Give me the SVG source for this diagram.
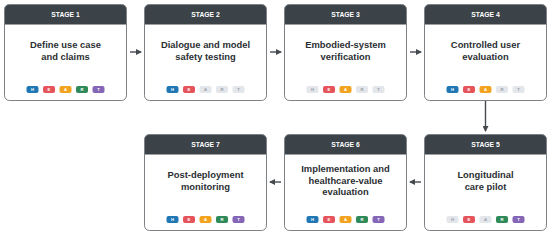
<svg xmlns="http://www.w3.org/2000/svg" width="550" height="233" viewBox="0 0 550 233">
<style>
.bg{fill:#ffffff;stroke:none}
.ol{fill:none;stroke:#7d8185;stroke-width:1}
.hdr{fill:#3b4248}
.ht{font-family:"Liberation Sans",Arial,sans-serif;font-weight:bold;font-size:6.8px;fill:#ffffff;text-anchor:middle}
.tt{font-family:"Liberation Sans",Arial,sans-serif;font-weight:bold;font-size:9.4px;fill:#2b2f33;text-anchor:middle}
.bt{font-family:"Liberation Sans",Arial,sans-serif;font-weight:bold;font-size:4.2px;fill:#ffffff;text-anchor:middle}
.bt.off{fill:#9aa0a6}
.H{fill:#2077b4}.E{fill:#e5535b}.A{fill:#f2a31f}.R{fill:#2f8a5a}.T{fill:#8465b6}.off{fill:#e3e6ea}
text.off{fill:#9aa0a6}
.arr{stroke:#454a4f;stroke-width:1.4;fill:none;marker-end:url(#ah)}
</style>
<defs>
<marker id="ah" markerUnits="userSpaceOnUse" markerWidth="6" markerHeight="6" refX="5" refY="3" orient="auto">
<path d="M0,0 L6,3 L0,6 Z" fill="#454a4f"/>
</marker>
<g id="frame">
<rect class="bg" x="0" y="0" width="122" height="96" rx="5"/>
<path class="hdr" d="M0,20 V5 Q0,0 5,0 H117 Q122,0 122,5 V20 Z"/>
<rect class="ol" x="0" y="0" width="122" height="96" rx="5"/>
</g>
</defs>

<g id="connectors">
<line class="arr" x1="130" y1="52" x2="141" y2="52"/>
<line class="arr" x1="270" y1="52" x2="281" y2="52"/>
<line class="arr" x1="410" y1="52" x2="421" y2="52"/>
<line class="arr" x1="485.5" y1="101" x2="485.5" y2="131"/>
<line class="arr" x1="421" y1="182" x2="410" y2="182"/>
<line class="arr" x1="281" y1="182" x2="270" y2="182"/>
</g>

<g id="stage1" transform="translate(4.5,4.5)">
<use href="#frame"/>
<text class="ht" x="61" y="12">STAGE 1</text>
<text class="tt" x="61" y="43.2">Define use case</text>
<text class="tt" x="61" y="55.5">and claims</text>
<rect class="H" x="22" y="81.5" width="12" height="7" rx="2"/><text class="bt" x="28" y="86.5">H</text>
<rect class="E" x="38.5" y="81.5" width="12" height="7" rx="2"/><text class="bt" x="44.5" y="86.5">E</text>
<rect class="A" x="55" y="81.5" width="12" height="7" rx="2"/><text class="bt" x="61" y="86.5">A</text>
<rect class="R" x="71.5" y="81.5" width="12" height="7" rx="2"/><text class="bt" x="77.5" y="86.5">R</text>
<rect class="T" x="88" y="81.5" width="12" height="7" rx="2"/><text class="bt" x="94" y="86.5">T</text>
</g>

<g id="stage2" transform="translate(144.5,4.5)">
<use href="#frame"/>
<text class="ht" x="61" y="12">STAGE 2</text>
<text class="tt" x="61" y="43.2">Dialogue and model</text>
<text class="tt" x="61" y="55.5">safety testing</text>
<rect class="H" x="22" y="81.5" width="12" height="7" rx="2"/><text class="bt" x="28" y="86.5">H</text>
<rect class="E" x="38.5" y="81.5" width="12" height="7" rx="2"/><text class="bt" x="44.5" y="86.5">E</text>
<rect class="off" x="55" y="81.5" width="12" height="7" rx="2"/><text class="bt off" x="61" y="86.5">A</text>
<rect class="off" x="71.5" y="81.5" width="12" height="7" rx="2"/><text class="bt off" x="77.5" y="86.5">R</text>
<rect class="off" x="88" y="81.5" width="12" height="7" rx="2"/><text class="bt off" x="94" y="86.5">T</text>
</g>

<g id="stage3" transform="translate(284.5,4.5)">
<use href="#frame"/>
<text class="ht" x="61" y="12">STAGE 3</text>
<text class="tt" x="61" y="43.2">Embodied-system</text>
<text class="tt" x="61" y="55.5">verification</text>
<rect class="off" x="22" y="81.5" width="12" height="7" rx="2"/><text class="bt off" x="28" y="86.5">H</text>
<rect class="E" x="38.5" y="81.5" width="12" height="7" rx="2"/><text class="bt" x="44.5" y="86.5">E</text>
<rect class="A" x="55" y="81.5" width="12" height="7" rx="2"/><text class="bt" x="61" y="86.5">A</text>
<rect class="off" x="71.5" y="81.5" width="12" height="7" rx="2"/><text class="bt off" x="77.5" y="86.5">R</text>
<rect class="off" x="88" y="81.5" width="12" height="7" rx="2"/><text class="bt off" x="94" y="86.5">T</text>
</g>

<g id="stage4" transform="translate(424.5,4.5)">
<use href="#frame"/>
<text class="ht" x="61" y="12">STAGE 4</text>
<text class="tt" x="61" y="43.2">Controlled user</text>
<text class="tt" x="61" y="55.5">evaluation</text>
<rect class="H" x="22" y="81.5" width="12" height="7" rx="2"/><text class="bt" x="28" y="86.5">H</text>
<rect class="E" x="38.5" y="81.5" width="12" height="7" rx="2"/><text class="bt" x="44.5" y="86.5">E</text>
<rect class="A" x="55" y="81.5" width="12" height="7" rx="2"/><text class="bt" x="61" y="86.5">A</text>
<rect class="off" x="71.5" y="81.5" width="12" height="7" rx="2"/><text class="bt off" x="77.5" y="86.5">R</text>
<rect class="off" x="88" y="81.5" width="12" height="7" rx="2"/><text class="bt off" x="94" y="86.5">T</text>
</g>

<g id="stage5" transform="translate(424.5,134.5)">
<use href="#frame"/>
<text class="ht" x="61" y="12">STAGE 5</text>
<text class="tt" x="61" y="43.2">Longitudinal</text>
<text class="tt" x="61" y="55.5">care pilot</text>
<rect class="off" x="22" y="81.5" width="12" height="7" rx="2"/><text class="bt off" x="28" y="86.5">H</text>
<rect class="E" x="38.5" y="81.5" width="12" height="7" rx="2"/><text class="bt" x="44.5" y="86.5">E</text>
<rect class="off" x="55" y="81.5" width="12" height="7" rx="2"/><text class="bt off" x="61" y="86.5">A</text>
<rect class="R" x="71.5" y="81.5" width="12" height="7" rx="2"/><text class="bt" x="77.5" y="86.5">R</text>
<rect class="T" x="88" y="81.5" width="12" height="7" rx="2"/><text class="bt" x="94" y="86.5">T</text>
</g>

<g id="stage6" transform="translate(284.5,134.5)">
<use href="#frame"/>
<text class="ht" x="61" y="12">STAGE 6</text>
<text class="tt" x="61" y="37.5">Implementation and</text>
<text class="tt" x="61" y="49">healthcare-value</text>
<text class="tt" x="61" y="60.5">evaluation</text>
<rect class="H" x="22" y="81.5" width="12" height="7" rx="2"/><text class="bt" x="28" y="86.5">H</text>
<rect class="E" x="38.5" y="81.5" width="12" height="7" rx="2"/><text class="bt" x="44.5" y="86.5">E</text>
<rect class="A" x="55" y="81.5" width="12" height="7" rx="2"/><text class="bt" x="61" y="86.5">A</text>
<rect class="R" x="71.5" y="81.5" width="12" height="7" rx="2"/><text class="bt" x="77.5" y="86.5">R</text>
<rect class="T" x="88" y="81.5" width="12" height="7" rx="2"/><text class="bt" x="94" y="86.5">T</text>
</g>

<g id="stage7" transform="translate(144.5,134.5)">
<use href="#frame"/>
<text class="ht" x="61" y="12">STAGE 7</text>
<text class="tt" x="61" y="43.2">Post-deployment</text>
<text class="tt" x="61" y="55.5">monitoring</text>
<rect class="H" x="22" y="81.5" width="12" height="7" rx="2"/><text class="bt" x="28" y="86.5">H</text>
<rect class="E" x="38.5" y="81.5" width="12" height="7" rx="2"/><text class="bt" x="44.5" y="86.5">E</text>
<rect class="A" x="55" y="81.5" width="12" height="7" rx="2"/><text class="bt" x="61" y="86.5">A</text>
<rect class="R" x="71.5" y="81.5" width="12" height="7" rx="2"/><text class="bt" x="77.5" y="86.5">R</text>
<rect class="T" x="88" y="81.5" width="12" height="7" rx="2"/><text class="bt" x="94" y="86.5">T</text>
</g>
</svg>
